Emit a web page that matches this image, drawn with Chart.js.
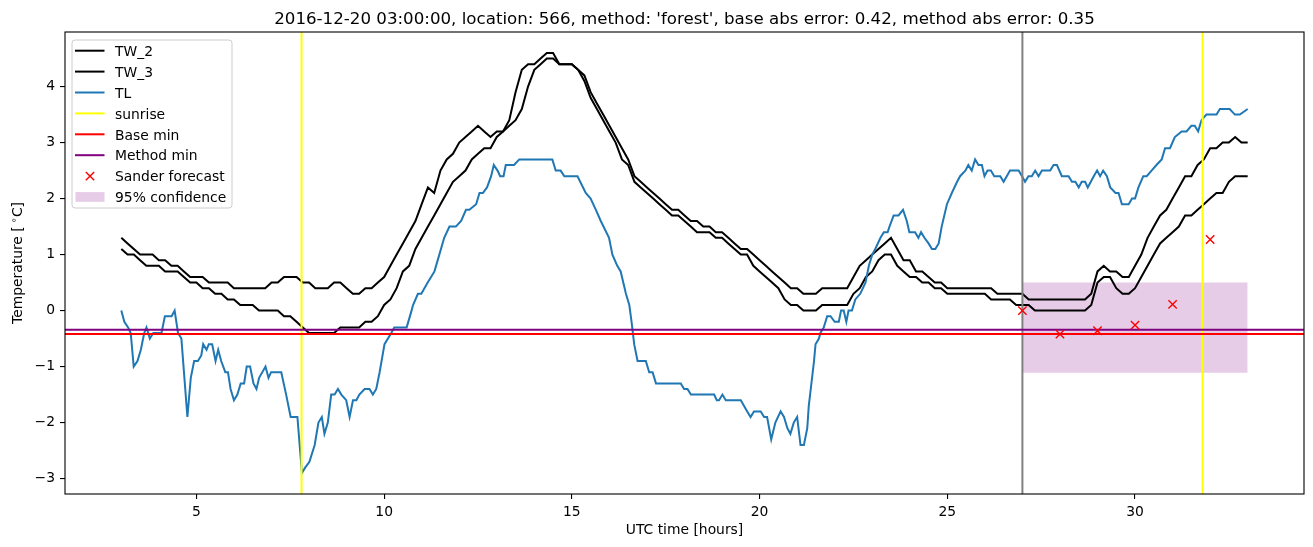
<!DOCTYPE html>
<html>
<head>
<meta charset="utf-8">
<script src="https://cdn.jsdelivr.net/npm/chart.js@4.4.1/dist/chart.umd.min.js"></script>
<style>
  html, body { margin: 0; padding: 0; background: #fff; }
  canvas { display: block; }
</style>
</head>
<body>
<canvas id="chart" width="1313" height="547"></canvas>
<script>
// water temperature sensors, 10 minute steps starting at 03:00 (hours since day start)
const twStart = 3;
const twStepsPerHour = 6;
const tw2Values = [
  1.3, 1.2, 1.1, 1.0, 1.0, 1.0,
  0.9, 0.9, 0.8, 0.8, 0.7, 0.6,
  0.6, 0.6, 0.5, 0.5, 0.5, 0.5,
  0.4, 0.4, 0.4, 0.4, 0.4, 0.4,
  0.5, 0.5, 0.6, 0.6, 0.6, 0.5,
  0.5, 0.4, 0.4, 0.4, 0.5, 0.5,
  0.4, 0.3, 0.3, 0.4, 0.4, 0.5,
  0.6, 0.8, 1.0, 1.2, 1.4, 1.6,
  1.9, 2.2, 2.1, 2.5, 2.7, 2.8,
  3.0, 3.1, 3.2, 3.3, 3.2, 3.1,
  3.2, 3.2, 3.4, 3.9, 4.3, 4.4,
  4.4, 4.5, 4.6, 4.6, 4.4, 4.4,
  4.4, 4.3, 4.2, 3.9, 3.7, 3.5,
  3.3, 3.1, 2.9, 2.7, 2.4, 2.3,
  2.2, 2.1, 2.0, 1.9, 1.8, 1.8,
  1.7, 1.6, 1.6, 1.5, 1.5, 1.4,
  1.4, 1.3, 1.2, 1.1, 1.1, 1.0,
  0.9, 0.8, 0.7, 0.6, 0.5, 0.4,
  0.4, 0.3, 0.3, 0.3, 0.4, 0.4,
  0.4, 0.4, 0.4, 0.6, 0.8, 0.9,
  1.0, 1.1, 1.2, 1.3, 1.1, 0.9,
  0.9, 0.7, 0.7, 0.6, 0.5, 0.5,
  0.4, 0.4, 0.4, 0.4, 0.4, 0.4,
  0.4, 0.4, 0.3, 0.3, 0.3, 0.3,
  0.3, 0.2, 0.2, 0.2, 0.2, 0.2,
  0.2, 0.2, 0.2, 0.2, 0.2, 0.3,
  0.7, 0.8, 0.7, 0.7, 0.6, 0.6,
  0.8, 1.0, 1.3, 1.5, 1.7, 1.8,
  2.0, 2.2, 2.4, 2.4, 2.6, 2.7,
  2.9, 2.9, 3.0, 3.0, 3.1, 3.0,
  3.0
];
const tw3Values = [
  1.1, 1.0, 1.0, 0.9, 0.8, 0.8,
  0.8, 0.7, 0.7, 0.7, 0.6, 0.5,
  0.5, 0.4, 0.4, 0.3, 0.3, 0.2,
  0.2, 0.1, 0.1, 0.1, 0.0, 0.0,
  0.0, 0.0, -0.1, -0.1, -0.2, -0.3,
  -0.4, -0.4, -0.4, -0.4, -0.4, -0.3,
  -0.3, -0.3, -0.3, -0.2, -0.2, -0.1,
  0.1, 0.2, 0.4, 0.7, 0.8, 1.1,
  1.3, 1.5, 1.7, 1.9, 2.1, 2.3,
  2.4, 2.5, 2.7, 2.8, 2.9, 2.9,
  3.1, 3.2, 3.3, 3.4, 3.6, 4.0,
  4.3, 4.4, 4.5, 4.5, 4.4, 4.4,
  4.4, 4.3, 4.1, 3.8, 3.6, 3.4,
  3.2, 3.0, 2.7, 2.6, 2.3, 2.2,
  2.1, 2.0, 1.9, 1.8, 1.7, 1.7,
  1.6, 1.5, 1.4, 1.4, 1.4, 1.3,
  1.3, 1.2, 1.1, 1.0, 1.0, 0.8,
  0.7, 0.6, 0.5, 0.4, 0.2, 0.1,
  0.1, 0.0, 0.0, 0.0, 0.1, 0.1,
  0.1, 0.1, 0.1, 0.3, 0.4, 0.6,
  0.7, 0.9, 1.0, 1.0, 0.8, 0.7,
  0.6, 0.6, 0.5, 0.5, 0.4, 0.4,
  0.3, 0.3, 0.3, 0.3, 0.3, 0.3,
  0.3, 0.2, 0.2, 0.2, 0.2, 0.1,
  0.1, 0.1, 0.0, 0.0, 0.0, 0.0,
  0.0, 0.0, 0.0, 0.0, 0.0, 0.1,
  0.5, 0.6, 0.6, 0.4, 0.3, 0.3,
  0.4, 0.6, 0.8, 1.0, 1.2, 1.3,
  1.4, 1.5, 1.7, 1.7, 1.8, 1.9,
  2.0, 2.1, 2.1, 2.3, 2.4, 2.4,
  2.4
];

// air temperature (TL), read at its turning points
const tlTimes = [
  3.0, 3.08, 3.18, 3.25, 3.33, 3.43, 3.52, 3.61, 3.67, 3.76, 3.85, 4.07, 4.16, 4.34, 4.42, 4.51, 4.6, 4.76, 4.85, 4.94,
  5.04, 5.13, 5.18, 5.27, 5.33, 5.42, 5.51, 5.58, 5.66, 5.77, 5.84, 5.91, 6.0, 6.09, 6.18, 6.27, 6.34, 6.43, 6.52, 6.6,
  6.67, 6.84, 6.92, 6.99, 7.26, 7.39, 7.51, 7.69, 7.81, 7.9, 8.01, 8.15, 8.25, 8.34, 8.41, 8.5, 8.59, 8.68, 8.77, 8.86,
  8.99, 9.08, 9.17, 9.26, 9.34, 9.48, 9.61, 9.7, 9.79, 9.88, 10.01, 10.19, 10.27, 10.6, 10.73, 10.77, 10.9, 10.99, 11.16, 11.34,
  11.47, 11.6, 11.74, 11.91, 12.05, 12.18, 12.27, 12.45, 12.54, 12.63, 12.74, 12.85, 12.92, 13.02, 13.09, 13.18, 13.24, 13.46, 13.6, 14.48,
  14.57, 14.7, 14.8, 15.15, 15.37, 15.5, 15.64, 15.77, 15.99, 16.08, 16.21, 16.3, 16.44, 16.53, 16.59, 16.66, 16.75, 16.97, 17.06, 17.15,
  17.24, 17.9, 17.99, 18.08, 18.17, 18.79, 18.86, 18.92, 19.01, 19.1, 19.5, 19.67, 19.76, 19.85, 20.03, 20.12, 20.2, 20.31, 20.42, 20.56,
  20.65, 20.74, 20.82, 20.91, 21.0, 21.09, 21.18, 21.27, 21.31, 21.45, 21.49, 21.58, 21.62, 21.71, 21.8, 21.89, 22.0, 22.11, 22.17, 22.24,
  22.31, 22.37, 22.46, 22.55, 22.68, 22.82, 22.91, 23.0, 23.08, 23.22, 23.31, 23.41, 23.46, 23.57, 23.7, 23.82, 23.92, 23.99, 24.14, 24.23,
  24.3, 24.39, 24.5, 24.59, 24.68, 24.77, 24.85, 24.99, 25.12, 25.26, 25.34, 25.48, 25.56, 25.65, 25.74, 25.83, 25.92, 25.99, 26.07, 26.16,
  26.25, 26.41, 26.5, 26.67, 26.9, 26.99, 27.07, 27.16, 27.25, 27.34, 27.43, 27.52, 27.74, 27.83, 27.92, 28.05, 28.23, 28.32, 28.41, 28.5,
  28.58, 28.67, 28.74, 28.9, 28.99, 29.07, 29.15, 29.25, 29.34, 29.48, 29.56, 29.65, 29.83, 29.92, 30.0, 30.09, 30.22, 30.31, 30.44, 30.57,
  30.71, 30.8, 30.93, 31.06, 31.24, 31.37, 31.5, 31.59, 31.68, 31.77, 31.9, 32.17, 32.26, 32.52, 32.66, 32.79, 33.0
];
const tlValues = [
  0.0, -0.2, -0.3, -0.4, -1.0, -0.9, -0.7, -0.4, -0.3, -0.5, -0.4, -0.4, -0.1, -0.1, 0.0, -0.4, -0.5, -1.9, -1.2, -0.9,
  -0.9, -0.8, -0.6, -0.7, -0.6, -0.6, -0.9, -0.7, -0.9, -1.1, -1.1, -1.4, -1.6, -1.5, -1.3, -1.3, -1.0, -1.0, -1.3, -1.4,
  -1.2, -1.0, -1.2, -1.1, -1.1, -1.5, -1.9, -1.9, -2.9, -2.8, -2.7, -2.4, -2.0, -1.9, -2.2, -2.0, -1.5, -1.5, -1.4, -1.5,
  -1.6, -1.9, -1.6, -1.6, -1.5, -1.4, -1.4, -1.5, -1.4, -1.1, -0.6, -0.4, -0.3, -0.3, 0.0, 0.1, 0.3, 0.3, 0.5, 0.7,
  1.0, 1.3, 1.5, 1.5, 1.6, 1.8, 1.8, 1.9, 2.1, 2.1, 2.2, 2.4, 2.6, 2.5, 2.4, 2.4, 2.6, 2.6, 2.7, 2.7,
  2.5, 2.5, 2.4, 2.4, 2.1, 2.0, 1.8, 1.6, 1.3, 1.0, 0.8, 0.7, 0.3, 0.1, -0.2, -0.6, -0.9, -0.9, -1.1, -1.1,
  -1.3, -1.3, -1.4, -1.4, -1.5, -1.5, -1.6, -1.6, -1.5, -1.6, -1.6, -1.8, -1.9, -1.8, -1.8, -1.9, -1.9, -2.3, -2.0, -1.8,
  -1.9, -2.1, -2.2, -2.0, -1.9, -2.4, -2.4, -2.1, -1.7, -0.9, -0.6, -0.5, -0.4, -0.3, -0.1, -0.1, -0.2, -0.2, 0.0, 0.0,
  -0.2, 0.0, 0.0, 0.2, 0.3, 0.5, 0.8, 1.0, 1.1, 1.3, 1.4, 1.4, 1.5, 1.7, 1.7, 1.8, 1.6, 1.4, 1.4, 1.3,
  1.4, 1.3, 1.2, 1.1, 1.1, 1.2, 1.5, 1.9, 2.1, 2.3, 2.4, 2.5, 2.6, 2.5, 2.7, 2.6, 2.6, 2.4, 2.5, 2.5,
  2.4, 2.4, 2.3, 2.5, 2.5, 2.4, 2.3, 2.4, 2.4, 2.5, 2.4, 2.5, 2.5, 2.6, 2.6, 2.4, 2.4, 2.3, 2.3, 2.2,
  2.3, 2.3, 2.2, 2.4, 2.5, 2.4, 2.5, 2.4, 2.2, 2.1, 2.1, 1.9, 1.9, 2.0, 2.0, 2.2, 2.4, 2.4, 2.5, 2.6,
  2.7, 2.9, 2.9, 3.1, 3.2, 3.2, 3.3, 3.3, 3.2, 3.4, 3.5, 3.5, 3.6, 3.6, 3.5, 3.5, 3.6
];

const sunriseTimes = [7.8, 31.8];
const forecastStart = 27;
const baseMin = -0.42;
const methodMin = -0.34;
const forecastTimes = [27, 28, 29, 30, 31, 32];
const forecastValues = [0.0, -0.42, -0.36, -0.26, 0.11, 1.27];
const confTimes = [27, 33];
const confLow = -1.11;
const confHigh = 0.5;

const xTicks = [5, 10, 15, 20, 25, 30];
const yTicks = [-3, -2, -1, 0, 1, 2, 3, 4];
const xMin = 1.5, xMax = 34.5;
const yMin = -3.275, yMax = 4.975;

const titleText = "2016-12-20 03:00:00, location: 566, method: 'forest', base abs error: 0.42, method abs error: 0.35";

const FONT = '"DejaVu Sans", "Liberation Sans", sans-serif';
const TL_BLUE = '#1f77b4';
const CONF_FILL = 'rgba(128, 0, 128, 0.2)';

const twTimes = tw2Values.map((_, i) => twStart + i / twStepsPerHour);
const zip = (xs, ys) => xs.map((x, i) => ({ x: x, y: ys[i] }));
const vline = x => [{ x: x, y: yMin }, { x: x, y: yMax }];
const hline = y => [{ x: xMin, y: y }, { x: xMax, y: y }];

function lineSet(label, data, color, order) {
  return {
    label: label, data: data, borderColor: color, backgroundColor: color,
    borderWidth: 2, pointRadius: 0, fill: false, order: order, clip: 0
  };
}

const datasets = [
  lineSet('TW_2', zip(twTimes, tw2Values), 'black', 9),
  lineSet('TW_3', zip(twTimes, tw3Values), 'black', 8),
  lineSet('TL', zip(tlTimes, tlValues), TL_BLUE, 7),
  lineSet('sunrise', vline(sunriseTimes[0]), 'yellow', 6),
  lineSet('sunrise2', vline(sunriseTimes[1]), 'yellow', 6),
  lineSet('forecast start', vline(forecastStart), 'gray', 5),
  lineSet('Base min', hline(baseMin), 'red', 4),
  lineSet('Method min', hline(methodMin), 'purple', 3),
  {
    label: 'Sander forecast', data: zip(forecastTimes, forecastValues),
    showLine: false, pointStyle: 'crossRot', pointRadius: 5.9,
    borderColor: 'red', pointBorderWidth: 1.4, borderWidth: 1.4, order: 1
  },
  {
    label: '95% confidence', data: zip(confTimes, [confHigh, confHigh]),
    borderWidth: 0, pointRadius: 0, backgroundColor: CONF_FILL,
    fill: { value: confLow }, order: 10
  }
];

// legend entries as matplotlib showed them
const legendItems = [
  { label: 'TW_2', kind: 'line', color: 'black' },
  { label: 'TW_3', kind: 'line', color: 'black' },
  { label: 'TL', kind: 'line', color: TL_BLUE },
  { label: 'sunrise', kind: 'line', color: 'yellow' },
  { label: 'Base min', kind: 'line', color: 'red' },
  { label: 'Method min', kind: 'line', color: 'purple' },
  { label: 'Sander forecast', kind: 'cross', color: 'red' },
  { label: '95% confidence', kind: 'patch', color: CONF_FILL }
];

const fmt = v => (v < 0 ? '\u2212' + Math.abs(v) : String(v));

const decor = {
  id: 'decor',
  afterDraw(chart) {
    const ctx = chart.ctx;
    const a = chart.chartArea;
    ctx.save();

    // axes frame
    ctx.strokeStyle = 'black';
    ctx.lineWidth = 1.1;
    ctx.strokeRect(a.left, a.top, a.right - a.left, a.bottom - a.top);

    // title and axis labels
    ctx.fillStyle = 'black';
    ctx.textAlign = 'center';
    ctx.textBaseline = 'alphabetic';
    ctx.font = '16.67px ' + FONT;
    ctx.fillText(titleText, (a.left + a.right) / 2, 24);
    ctx.font = '13.89px ' + FONT;
    ctx.fillText('UTC time [hours]', (a.left + a.right) / 2, 534);

    ctx.save();
    ctx.translate(22, (a.top + a.bottom) / 2);
    ctx.rotate(-Math.PI / 2);
    const p1 = 'Temperature [', p3 = 'C]';
    ctx.font = '13.89px ' + FONT;
    const w1 = ctx.measureText(p1).width, w3 = ctx.measureText(p3).width;
    ctx.font = '9.7px ' + FONT;
    const w2 = ctx.measureText(' \u2218').width;
    let x0 = -(w1 + w2 + w3) / 2;
    ctx.textAlign = 'left';
    ctx.font = '13.89px ' + FONT;
    ctx.fillText(p1, x0, 0);
    ctx.font = '9.7px ' + FONT;
    ctx.fillText(' \u2218', x0 + w1, -5);
    ctx.font = '13.89px ' + FONT;
    ctx.fillText(p3, x0 + w1 + w2, 0);
    ctx.restore();

    // legend box
    const lx = 72, ly = 40, lw = 160, lh = 168;
    ctx.beginPath();
    ctx.roundRect(lx, ly, lw, lh, 3);
    ctx.fillStyle = 'rgba(255,255,255,0.8)';
    ctx.fill();
    ctx.strokeStyle = '#cccccc';
    ctx.lineWidth = 1;
    ctx.stroke();

    ctx.font = '13.89px ' + FONT;
    ctx.textAlign = 'left';
    legendItems.forEach((it, k) => {
      const cy = 50.7 + k * 20.9;
      if (it.kind === 'line') {
        ctx.strokeStyle = it.color;
        ctx.lineWidth = 2;
        ctx.beginPath();
        ctx.moveTo(75, cy);
        ctx.lineTo(104.5, cy);
        ctx.stroke();
      } else if (it.kind === 'cross') {
        ctx.strokeStyle = it.color;
        ctx.lineWidth = 1.4;
        ctx.beginPath();
        ctx.moveTo(85.8, cy - 4.2); ctx.lineTo(94.2, cy + 4.2);
        ctx.moveTo(85.8, cy + 4.2); ctx.lineTo(94.2, cy - 4.2);
        ctx.stroke();
      } else {
        ctx.fillStyle = it.color;
        ctx.fillRect(75.5, cy - 4.9, 29, 9.7);
      }
      ctx.fillStyle = 'black';
      ctx.fillText(it.label, 115, cy + 5.2);
    });
    ctx.restore();
  }
};

new Chart(document.getElementById('chart'), {
  type: 'line',
  data: { datasets: datasets },
  plugins: [decor],
  options: {
    responsive: false,
    animation: false,
    events: [],
    layout: { padding: { left: 0, right: 9, top: 32, bottom: 0 } },
    plugins: { legend: { display: false }, title: { display: false }, tooltip: { enabled: false } },
    scales: {
      x: {
        type: 'linear', min: xMin, max: xMax,
        afterFit: s => { s.height = 53; },
        afterBuildTicks: s => { s.ticks = xTicks.map(v => ({ value: v })); },
        grid: { drawOnChartArea: false, drawTicks: true, tickLength: 5, color: 'black', lineWidth: 1.1 },
        border: { display: false },
        ticks: { color: 'black', padding: 5, maxRotation: 0, font: { family: FONT, size: 13.89 }, callback: fmt }
      },
      y: {
        type: 'linear', min: yMin, max: yMax,
        afterFit: s => { s.width = 65; },
        afterBuildTicks: s => { s.ticks = yTicks.map(v => ({ value: v })); },
        grid: { drawOnChartArea: false, drawTicks: true, tickLength: 5, color: 'black', lineWidth: 1.1 },
        border: { display: false },
        ticks: { color: 'black', padding: 5, font: { family: FONT, size: 13.89 }, callback: fmt }
      }
    }
  }
});
</script>
</body>
</html>
